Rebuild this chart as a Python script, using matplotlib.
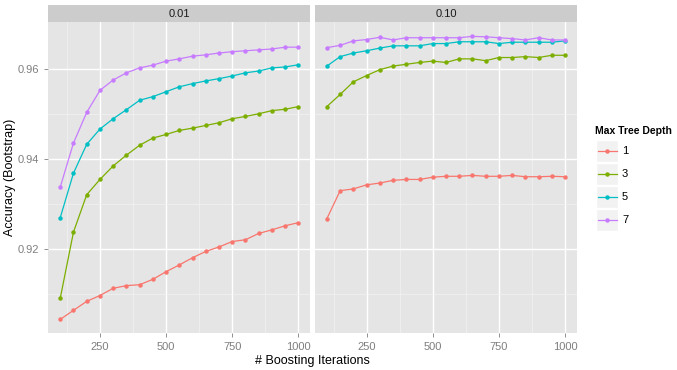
import matplotlib.pyplot as plt
from matplotlib.patches import Rectangle

plt.rcParams['font.family'] = ['Liberation Sans', 'DejaVu Sans']

# boosting iterations (x axis)
iterations = list(range(100, 1001, 50))

# shrinkage facets and tree depths
shrinkages = ['0.01', '0.10']
depths = ['1', '3', '5', '7']
colors = ['#F8766D', '#7CAE00', '#00BFC4', '#C77CFF']

# accuracy, shrinkage 0.01
acc_001_d1 = [0.9044, 0.9064, 0.9084, 0.9097, 0.9113, 0.9119, 0.9121, 0.9133, 0.9150, 0.9165,
              0.9181, 0.9195, 0.9205, 0.9217, 0.9221, 0.9235, 0.9243, 0.9252, 0.9259]
acc_001_d3 = [0.9091, 0.9238, 0.9321, 0.9355, 0.9385, 0.9409, 0.9431, 0.9447, 0.9455, 0.9464,
              0.9469, 0.9475, 0.9481, 0.9490, 0.9495, 0.9501, 0.9508, 0.9511, 0.9517]
acc_001_d5 = [0.9270, 0.9369, 0.9433, 0.9467, 0.9490, 0.9510, 0.9531, 0.9539, 0.9550, 0.9561,
              0.9568, 0.9574, 0.9579, 0.9585, 0.9592, 0.9596, 0.9603, 0.9605, 0.9610]
acc_001_d7 = [0.9338, 0.9436, 0.9504, 0.9553, 0.9576, 0.9592, 0.9603, 0.9609, 0.9618, 0.9623,
              0.9629, 0.9632, 0.9636, 0.9639, 0.9641, 0.9643, 0.9645, 0.9649, 0.9649]

# accuracy, shrinkage 0.10
acc_010_d1 = [0.9268, 0.9330, 0.9334, 0.9343, 0.9347, 0.9353, 0.9355, 0.9355, 0.9360, 0.9362,
              0.9362, 0.9364, 0.9362, 0.9362, 0.9364, 0.9361, 0.9361, 0.9362, 0.9361]
acc_010_d3 = [0.9517, 0.9544, 0.9572, 0.9586, 0.9599, 0.9607, 0.9611, 0.9615, 0.9618, 0.9615,
              0.9623, 0.9623, 0.9619, 0.9626, 0.9626, 0.9628, 0.9626, 0.9631, 0.9631]
acc_010_d5 = [0.9607, 0.9628, 0.9636, 0.9641, 0.9647, 0.9652, 0.9652, 0.9652, 0.9657, 0.9657,
              0.9661, 0.9661, 0.9661, 0.9657, 0.9660, 0.9660, 0.9660, 0.9660, 0.9663]
acc_010_d7 = [0.9648, 0.9653, 0.9663, 0.9666, 0.9671, 0.9665, 0.9670, 0.9670, 0.9670, 0.9670,
              0.9670, 0.9673, 0.9672, 0.9670, 0.9668, 0.9665, 0.9670, 0.9665, 0.9665]

facet_data = [[acc_001_d1, acc_001_d3, acc_001_d5, acc_001_d7],
              [acc_010_d1, acc_010_d3, acc_010_d5, acc_010_d7]]

fig = plt.figure(figsize=(6.77, 3.70), dpi=100)

tick_grey = '#7F7F7F'
panel_bottom = 0.0992
panel_height = 0.8414
lefts = [0.0714, 0.4653]
width = 0.3870

for i, (shrink, series) in enumerate(zip(shrinkages, facet_data)):
    ax = fig.add_axes([lefts[i], panel_bottom, width, panel_height])
    ax.set_facecolor('#E5E5E5')
    for s in ax.spines.values():
        s.set_visible(False)
    ax.set_xlim(55, 1045)
    ax.set_ylim(0.9013, 0.9705)
    ax.set_xticks([250, 500, 750, 1000])
    ax.set_xticks([125, 375, 625, 875], minor=True)
    ax.set_yticks([0.92, 0.94, 0.96])
    ax.set_yticks([0.91, 0.93, 0.95], minor=True)
    ax.grid(which='major', color='white', linewidth=1.0)
    ax.grid(which='minor', color='#F2F2F2', linewidth=0.5)
    ax.set_axisbelow(True)
    ax.tick_params(which='major', colors=tick_grey, labelsize=8, length=3, width=0.6,
                   labelcolor=tick_grey)
    ax.tick_params(which='minor', length=0)
    if i == 0:
        ax.set_yticklabels(['0.92', '0.94', '0.96'])
        ax.set_ylabel('Accuracy (Bootstrap)', fontsize=9)
        ax.yaxis.set_label_coords(-0.123, 0.5)
    else:
        ax.tick_params(axis='y', which='major', left=False, labelleft=False)

    for vals, c in zip(series, colors):
        ax.plot(iterations, vals, color=c, linewidth=0.9, marker='o', markersize=3.2,
                markeredgewidth=0)

    # facet strip
    strip = fig.add_axes([lefts[i], panel_bottom + panel_height, width, 0.046])
    strip.set_facecolor('#CCCCCC')
    strip.set_xticks([])
    strip.set_yticks([])
    for s in strip.spines.values():
        s.set_visible(False)
    strip.text(0.5, 0.45, shrink, ha='center', va='center', fontsize=8, color='#1A1A1A')

fig.text((lefts[0] + lefts[1] + width) / 2, 0.024, '# Boosting Iterations',
         ha='center', va='center', fontsize=9)

# legend
fig.text(0.879, 0.647, 'Max Tree Depth', fontsize=7.5, fontweight='bold', va='center')
lax = fig.add_axes([0.878, 0.3757, 0.12, 0.246])
lax.set_xlim(0, 1)
lax.set_ylim(0, len(depths))
lax.axis('off')
for k, (d, c) in enumerate(zip(depths, colors)):
    yk = len(depths) - 1 - k
    lax.add_patch(Rectangle((0.02, yk + 0.02), 0.275, 0.96, facecolor='#F2F2F2',
                            edgecolor='white', linewidth=1))
    lax.plot([0.04, 0.275], [yk + 0.5, yk + 0.5], color=c, linewidth=0.9)
    lax.plot([0.158], [yk + 0.5], marker='o', color=c, markersize=3.2, markeredgewidth=0)
    lax.text(0.34, yk + 0.5, d, va='center', fontsize=8)

fig.savefig('out.png', dpi=100)
